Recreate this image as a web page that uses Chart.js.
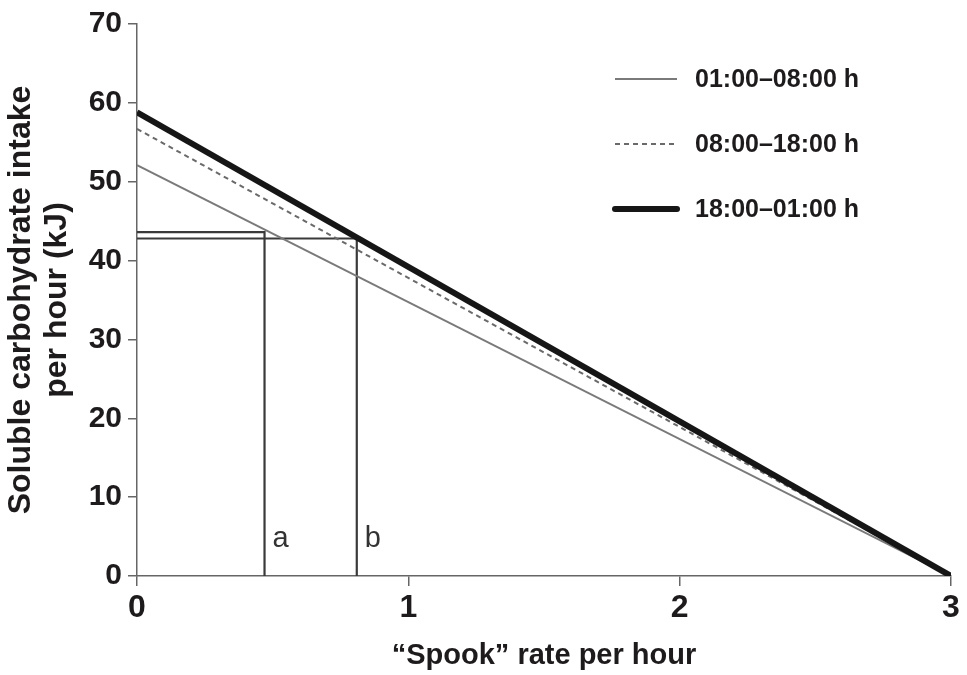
<!DOCTYPE html>
<html>
<head>
<meta charset="utf-8">
<script src="https://cdn.jsdelivr.net/npm/chart.js@4.4.1/dist/chart.umd.min.js"></script>
<style>
  html, body { margin: 0; padding: 0; background: #fff; }
  #wrap { width: 967px; height: 675px; position: relative; }
</style>
</head>
<body>
<div id="wrap"><canvas id="spook"></canvas></div>
<script>
// spook rate (x) and fitted intake lines (y)
let spookRate = [0, 3];
let intakeNight = [52.1, 0];    // 01:00–08:00 h
let intakeDay = [56.7, 0];      // 08:00–18:00 h
let intakeEvening = [58.8, 0];  // 18:00–01:00 h
let seriesLabels = ['01:00–08:00 h', '08:00–18:00 h', '18:00–01:00 h'];

// guide lines a and b
let guideAx = [0, 0.47, 0.47];
let guideAy = [43.6, 43.6, 0];
let guideBx = [0, 0.81, 0.81];
let guideBy = [42.8, 42.8, 0];
let guideNames = ['a', 'b'];
let guideNameX = [0.47, 0.81];
let guideNameY = [3.7, 3.7];

let xTicks = [0, 1, 2, 3];
let yTicks = [0, 10, 20, 30, 40, 50, 60, 70];

const FONT = '"Liberation Sans", Arial, sans-serif';
const INK = '#1e1b1c';
const AXIS = '#666';

function pts(xs, ys) {
    return xs.map((x, i) => ({ x: x, y: ys[i] }));
}

// legend drawn in the upper right, three rows
const legendRows = {
    id: 'legendRows',
    afterDraw(chart) {
        const ctx = chart.ctx;
        const items = chart.data.datasets.filter(d => d.legendOrder !== undefined)
            .sort((a, b) => a.legendOrder - b.legendOrder);
        ctx.save();
        items.forEach((d, i) => {
            const y = 79 + i * 65;
            ctx.beginPath();
            ctx.strokeStyle = d.borderColor;
            ctx.lineWidth = d.borderWidth;
            ctx.setLineDash(d.borderDash || []);
            ctx.lineCap = d.borderWidth > 3 ? 'round' : 'butt';
            ctx.moveTo(615, y);
            ctx.lineTo(677, y);
            ctx.stroke();
            ctx.setLineDash([]);
            ctx.fillStyle = INK;
            ctx.font = 'bold 25px ' + FONT;
            ctx.textBaseline = 'middle';
            ctx.textAlign = 'left';
            ctx.fillText(d.label, 695, y + 1);
        });
        ctx.restore();
    }
};

// letters next to the vertical guide lines
const guideLetters = {
    id: 'guideLetters',
    afterDatasetsDraw(chart) {
        const ctx = chart.ctx;
        const xs = chart.scales.x, ys = chart.scales.y;
        ctx.save();
        ctx.fillStyle = '#333';
        ctx.font = '29px ' + FONT;
        ctx.textBaseline = 'alphabetic';
        ctx.textAlign = 'left';
        guideNames.forEach((t, i) => {
            ctx.fillText(t, xs.getPixelForValue(guideNameX[i]) + 8, ys.getPixelForValue(guideNameY[i]));
        });
        ctx.restore();
    }
};

var ctx = document.getElementById('spook').getContext('2d');
var spookChart = new Chart(ctx, {
    type: 'line',
    data: {
        datasets: [
            {
                label: seriesLabels[2],
                data: pts(spookRate, intakeEvening),
                borderColor: '#161616',
                borderWidth: 6,
                legendOrder: 2
            },
            {
                label: seriesLabels[1],
                data: pts(spookRate, intakeDay),
                borderColor: '#6a6a6a',
                borderWidth: 2,
                borderDash: [5, 4],
                legendOrder: 1
            },
            {
                label: seriesLabels[0],
                data: pts(spookRate, intakeNight),
                borderColor: '#7a7a7a',
                borderWidth: 2,
                legendOrder: 0
            },
            {
                label: 'a',
                data: pts(guideAx, guideAy),
                borderColor: '#3a3a3a',
                borderWidth: 2.2
            },
            {
                label: 'b',
                data: pts(guideBx, guideBy),
                borderColor: '#3a3a3a',
                borderWidth: 2.2
            }
        ]
    },
    options: {
        responsive: true,
        maintainAspectRatio: false,
        animation: false,
        layout: { padding: { top: 21, right: 16, left: 0, bottom: 0 } },
        elements: {
            point: { radius: 0, hoverRadius: 0 },
            line: { tension: 0, fill: false }
        },
        scales: {
            x: {
                type: 'linear',
                min: 0,
                max: 3,
                afterBuildTicks: s => { s.ticks = xTicks.map(v => ({ value: v })); },
                afterFit: s => { s.height = 99; },
                ticks: {
                    color: INK,
                    font: { family: FONT, size: 32, weight: 'bold' },
                    padding: 3,
                    maxRotation: 0
                },
                grid: { drawOnChartArea: false, drawTicks: true, tickLength: 10, color: AXIS, lineWidth: 1.5 },
                border: { display: true, color: AXIS, width: 1.5 },
                title: {
                    display: true,
                    text: '“Spook” rate per hour',
                    color: INK,
                    font: { family: FONT, size: 29, weight: 'bold' },
                    padding: { top: 2, bottom: 2 }
                }
            },
            y: {
                min: 0,
                max: 70,
                afterBuildTicks: s => { s.ticks = yTicks.map(v => ({ value: v })); },
                afterFit: s => { s.width = 137; },
                ticks: {
                    color: INK,
                    font: { family: FONT, size: 30, weight: 'bold' },
                    padding: 6
                },
                grid: { drawOnChartArea: false, drawTicks: true, tickLength: 9, color: AXIS, lineWidth: 1.5 },
                border: { display: true, color: AXIS, width: 1.5 },
                title: {
                    display: true,
                    text: ['Soluble carbohydrate intake', 'per hour (kJ)'],
                    color: INK,
                    font: { family: FONT, size: 32, weight: 'bold', lineHeight: 1.125 },
                    padding: { top: 3, bottom: 3 }
                }
            }
        },
        plugins: {
            legend: { display: false },
            tooltip: { enabled: false }
        }
    },
    plugins: [legendRows, guideLetters]
});
</script>
</body>
</html>
